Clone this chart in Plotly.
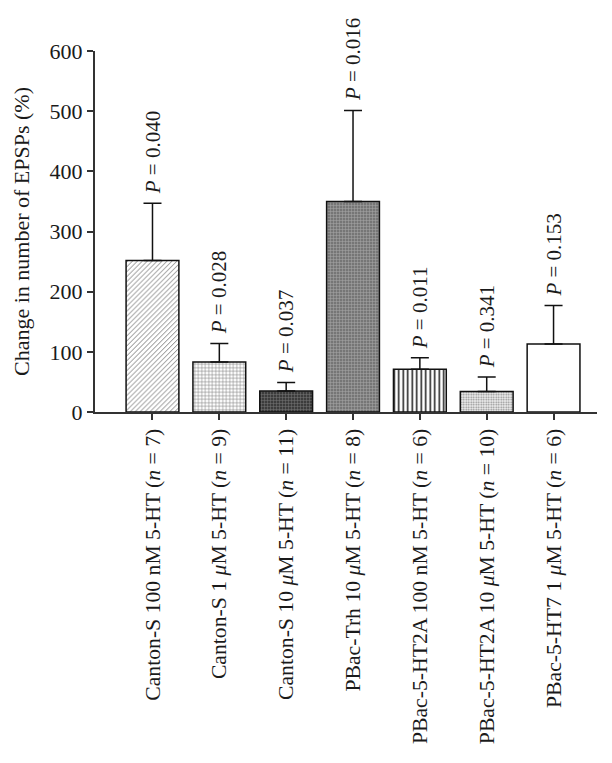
import plotly.graph_objects as go

categories = [
    "Canton-S 100 nM 5-HT (<i>n</i> = 7)",
    "Canton-S 1 <i>μ</i>M 5-HT (<i>n</i> = 9)",
    "Canton-S 10 <i>μ</i>M 5-HT (<i>n</i> = 11)",
    "PBac-Trh 10 <i>μ</i>M 5-HT (<i>n</i> = 8)",
    "PBac-5-HT2A 100 nM 5-HT (<i>n</i> = 6)",
    "PBac-5-HT2A 10 <i>μ</i>M 5-HT (<i>n</i> = 10)",
    "PBac-5-HT7 1 <i>μ</i>M 5-HT (<i>n</i> = 6)",
]
means = [252, 83, 35, 350, 71, 34, 113]
errors = [95, 31, 14, 151, 19, 24, 64]
p_values = ["0.040", "0.028", "0.037", "0.016", "0.011", "0.341", "0.153"]

pattern_shapes = ["/", "+", "+", "+", "|", ".", ""]
pattern_fg = ["#707070", "#808080", "#787878", "#a8a8a8", "#222222", "#8a8a8a", "#000000"]
bar_colors = ["#ffffff", "#ffffff", "#3c3c3c", "#767676", "#ffffff", "#f0f0f0", "#ffffff"]
pattern_size = [3.5, 3.5, 3, 3, 4.5, 2.5, 8]
pattern_solidity = [0.25, 0.3, 0.3, 0.3, 0.35, 0.4, 0.2]

FONT = "Liberation Serif, Times New Roman, serif"
TXT = "#1a1a1a"

x_idx = list(range(len(categories)))

fig = go.Figure()
for i in x_idx:
    pat = dict(shape=pattern_shapes[i], fgcolor=pattern_fg[i], size=pattern_size[i],
               solidity=pattern_solidity[i], fillmode="overlay", fgopacity=1)
    fig.add_trace(go.Bar(
        x=[i],
        y=[means[i]],
        width=0.79,
        marker=dict(
            color=bar_colors[i],
            line=dict(color="#111111", width=1.5),
            pattern=pat,
        ),
        error_y=dict(
            type="data",
            symmetric=False,
            array=[errors[i]],
            arrayminus=[0],
            color="#111111",
            thickness=1.5,
            width=9,
        ),
        showlegend=False,
    ))

for i, (m, e, p) in enumerate(zip(means, errors, p_values)):
    fig.add_annotation(
        x=i, y=m + e,
        text="<i>P</i> = " + p,
        textangle=-90,
        showarrow=False,
        xanchor="center", yanchor="bottom",
        yshift=7,
        font=dict(family=FONT, size=21, color=TXT),
    )

fig.update_layout(
    width=604, height=755,
    margin=dict(l=84, r=15, t=43, b=351),
    paper_bgcolor="#ffffff",
    plot_bgcolor="#ffffff",
    font=dict(family=FONT, size=21, color=TXT),
    barmode="overlay",
)
fig.update_xaxes(
    tickmode="array",
    tickvals=x_idx,
    ticktext=categories,
    tickangle=-90,
    range=[-0.86, 6.65],
    showline=True, linecolor="#333333", linewidth=2,
    ticks="outside", ticklen=6, tickwidth=1.5, tickcolor="#333333",
    showgrid=False, zeroline=False,
    tickfont=dict(family=FONT, size=21.7, color=TXT),
)
fig.update_yaxes(
    range=[0, 600],
    tickvals=[0, 100, 200, 300, 400, 500, 600],
    showline=True, linecolor="#333333", linewidth=2,
    ticks="outside", ticklen=6, tickwidth=1.5, tickcolor="#333333",
    showgrid=False, zeroline=False,
    tickfont=dict(family=FONT, size=22, color=TXT),
    title=dict(text="Change in number of EPSPs (%)", font=dict(family=FONT, size=22, color=TXT), standoff=14),
)

fig.write_html("out.html")
